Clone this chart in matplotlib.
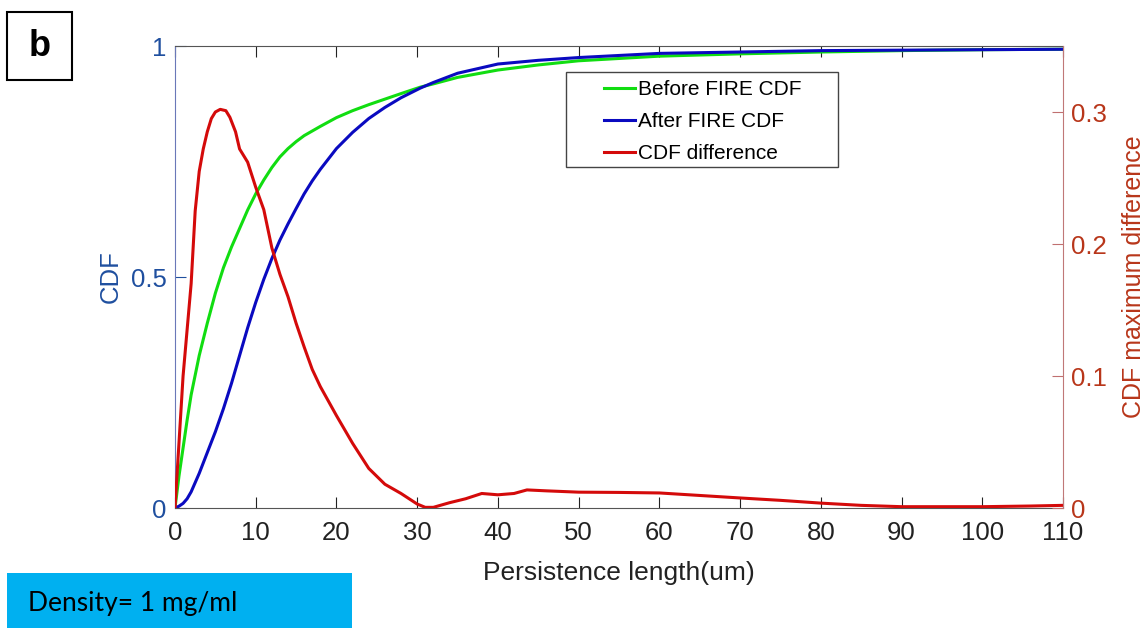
import matplotlib.pyplot as plt
from matplotlib.patches import Rectangle

# values
x_cdf = [0, 0.5, 1, 1.5, 2, 3, 4, 5, 6, 7, 8, 9, 10, 11, 12, 13, 14, 15, 16, 17, 18, 20, 22,
         24, 26, 28, 30.4, 32, 35, 40, 45, 50, 60, 70, 80, 90, 100, 110]
before_cdf = [0, 0.07, 0.13, 0.19, 0.245, 0.33, 0.40, 0.465, 0.52, 0.565, 0.605, 0.645, 0.68,
              0.71, 0.737, 0.76, 0.778, 0.793, 0.806, 0.816, 0.826, 0.845, 0.86, 0.873, 0.885,
              0.897, 0.911, 0.918, 0.932, 0.948, 0.959, 0.968, 0.978, 0.983, 0.987, 0.990,
              0.992, 0.993]
after_cdf = [0, 0.004, 0.01, 0.02, 0.035, 0.075, 0.12, 0.165, 0.215, 0.27, 0.33, 0.39, 0.445,
             0.495, 0.54, 0.58, 0.615, 0.648, 0.68, 0.708, 0.733, 0.778, 0.813, 0.843, 0.867,
             0.888, 0.909, 0.921, 0.941, 0.961, 0.969, 0.975, 0.984, 0.987, 0.990, 0.991,
             0.992, 0.993]

x_diff = [0, 0.5, 1, 1.5, 2, 2.5, 3, 3.5, 4, 4.5, 5, 5.6, 6.3, 6.8, 7.5, 8, 9, 10, 11, 12, 13,
          14, 15, 16, 17, 18, 19, 20, 22, 24, 26, 28, 29, 30, 31, 32, 34, 36, 38, 40, 42, 43.6,
          46, 50, 55, 60, 65, 70, 75, 80, 85, 90, 100, 106, 110]
cdf_diff = [0, 0.05, 0.1, 0.135, 0.17, 0.225, 0.255, 0.272, 0.285, 0.295, 0.3, 0.302, 0.301,
            0.296, 0.285, 0.272, 0.262, 0.243, 0.226, 0.197, 0.177, 0.16, 0.14, 0.122, 0.105,
            0.092, 0.081, 0.07, 0.049, 0.03, 0.018, 0.011, 0.007, 0.003, 0.0005, 0.0005, 0.004,
            0.007, 0.011, 0.010, 0.011, 0.0137, 0.013, 0.012, 0.0118, 0.0114, 0.0095, 0.0076,
            0.0058, 0.0037, 0.002, 0.001, 0.001, 0.0015, 0.002]

xticks = list(range(0, 111, 10))
left_ticks = [0, 0.5, 1]
right_ticks = [0, 0.1, 0.2, 0.3]

blue_lab = '#1f4f9f'
red_lab = '#b8361a'
fs = 18.5

plt.rcParams['font.family'] = ['Liberation Sans', 'DejaVu Sans']

fig = plt.figure(figsize=(11.48, 6.28), dpi=100)
ax = fig.add_axes([175 / 1148, 1 - 508 / 628, (1063 - 175) / 1148, (508 - 46) / 628])

l1, = ax.plot(x_cdf, before_cdf, color='#11dd11', lw=2.2)
l2, = ax.plot(x_cdf, after_cdf, color='#0a0ac0', lw=2.2)
ax.set_xlim(0, 110)
ax.set_ylim(0, 1)
ax.set_xticks(xticks)
ax.set_yticks(left_ticks)
ax.set_yticklabels(['0', '0.5', '1'])
ax.tick_params(axis='x', direction='in', length=8, top=True, labelsize=fs, colors='#222222',
               pad=9)
ax.tick_params(axis='y', direction='in', length=8, labelsize=fs, colors=blue_lab,
               labelcolor=blue_lab, pad=6)
ax.set_xlabel('Persistence length(um)', fontsize=fs + 0.5, color='#222222', labelpad=12)
ax.set_ylabel('CDF', fontsize=fs, color=blue_lab, labelpad=6)
for s in ['top', 'bottom']:
    ax.spines[s].set_color('#555555')
ax.spines['left'].set_color('#6a78b8')
ax.spines['right'].set_visible(False)

ax2 = ax.twinx()
l3, = ax2.plot(x_diff, cdf_diff, color='#d40a0a', lw=2.2)
ax2.set_ylim(0, 0.35)
ax2.set_yticks(right_ticks)
ax2.set_yticklabels(['0', '0.1', '0.2', '0.3'])
ax2.tick_params(axis='y', direction='in', length=8, labelsize=fs, colors='#c07070',
                labelcolor=red_lab, pad=6)
ax2.set_ylabel('CDF maximum difference', fontsize=18, color=red_lab, labelpad=11)
ax2.spines['right'].set_color('#c07878')
for s in ['top', 'bottom', 'left']:
    ax2.spines[s].set_visible(False)

# legend box drawn by hand, the entries placed inside it
ax2.add_patch(Rectangle(((566 - 175) / 888, 1 - (167 - 46) / 462), 272 / 888, 95 / 462,
                        transform=ax2.transAxes, facecolor='white', edgecolor='#444444',
                        lw=1.0, zorder=5))
leg = ax2.legend([l1, l2, l3], ['Before FIRE CDF', 'After FIRE CDF', 'CDF difference'],
                 loc='upper left', bbox_to_anchor=((600 - 175) / 888, 1 - (76 - 46) / 462),
                 fontsize=15, frameon=False, handlelength=1.5, handletextpad=0.1,
                 borderpad=0.2, borderaxespad=0, labelspacing=0.62)
leg.set_zorder(6)

# panel letter box
fig.patches.append(Rectangle((7 / 1148, 1 - 80 / 628), 65 / 1148, 68 / 628,
                             transform=fig.transFigure, facecolor='white',
                             edgecolor='black', lw=1.5))
fig.text(39.5 / 1148, 1 - 47 / 628, 'b', fontsize=26, fontweight='bold',
         ha='center', va='center', family=['Liberation Sans', 'DejaVu Sans'])

# density box
fig.patches.append(Rectangle((7 / 1148, 0), 345 / 1148, 55 / 628,
                             transform=fig.transFigure, facecolor='#00b0f0',
                             edgecolor='none'))
fig.text(28 / 1148, 1 - 604 / 628, 'Density= 1 mg/ml', fontsize=19, color='black',
         ha='left', va='center', family=['Lato', 'DejaVu Sans'])

fig.savefig('out.png', dpi=100)
